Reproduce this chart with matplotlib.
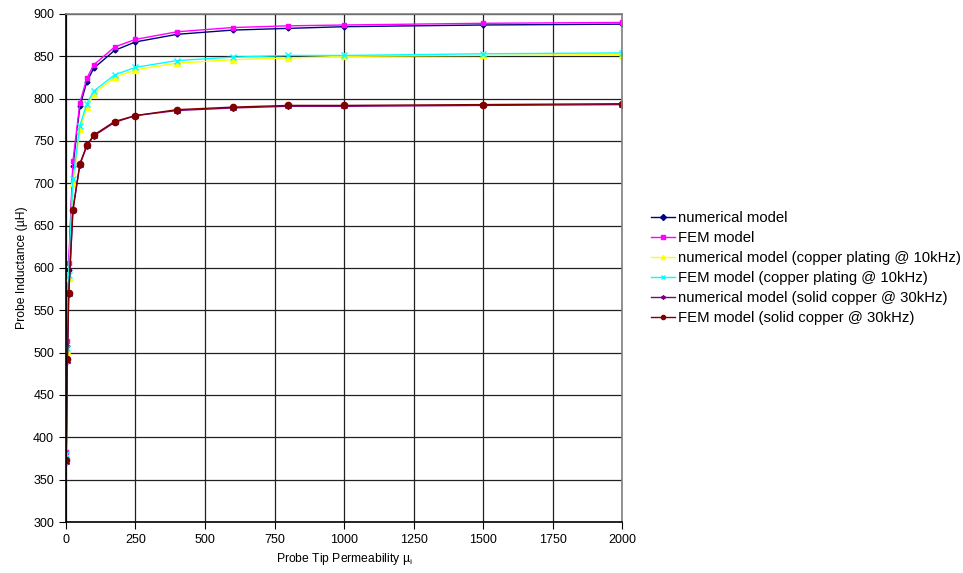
import matplotlib
matplotlib.use("Agg")
import matplotlib.pyplot as plt

plt.rcParams['font.family'] = ['Liberation Sans', 'DejaVu Sans']

# permeability values (x)
mu = [1, 5, 10, 25, 50, 75, 100, 175, 250, 400, 600, 800, 1000, 1500, 2000]

# inductance values (uH)
num_model = [376, 508, 598, 720, 791, 820, 836, 857, 867, 876, 881, 883, 885, 887, 888]
fem_model = [383, 514, 606, 726, 795, 824, 840, 861, 870, 879, 884, 886, 887, 889, 890]
num_cu_plating = [378, 502, 588, 700, 764, 790, 806, 825, 834, 842, 846, 848, 850, 851, 852]
fem_cu_plating = [380, 506, 592, 705, 768, 794, 809, 828, 837, 845, 849, 851, 851, 853, 854]
num_solid_cu = [371, 490, 569, 668, 722, 744, 756, 772, 780, 786, 789, 791, 791, 792, 793]
fem_solid_cu = [373, 492, 570, 669, 723, 745, 757, 773, 780, 787, 790, 792, 792, 793, 794]

series = [
    ("numerical model", num_model, "#000080", "D", 2.5),
    ("FEM model", fem_model, "#FF00FF", "s", 3.5),
    ("numerical model (copper plating @ 10kHz)", num_cu_plating, "#FFFF00", "^", 4),
    ("FEM model (copper plating @ 10kHz)", fem_cu_plating, "#00FFFF", "x", 4),
    ("numerical model (solid copper @ 30kHz)", num_solid_cu, "#800080", (6, 2, 0), 5),
    ("FEM model (solid copper @ 30kHz)", fem_solid_cu, "#800000", "o", 4.5),
]

fig = plt.figure(figsize=(9.63, 5.73), dpi=100)
ax = fig.add_axes([0.0685, 0.089, 0.5775, 0.8866])

for label, vals, col, mk, ms in series:
    ax.plot(mu, vals, color=col, marker=mk, markersize=ms, linewidth=1.0,
            markeredgewidth=1.0, label=label)

ax.set_xlim(0, 2000)
ax.set_ylim(300, 900)
ax.set_xticks(range(0, 2001, 250))
ax.set_yticks(range(300, 901, 50))
ax.grid(True, color="#202020", linewidth=0.9)
ax.set_axisbelow(True)
ax.tick_params(labelsize=9, length=5, direction="out")
for s in ax.spines.values():
    s.set_color("#808080")
    s.set_linewidth(1.2)
ax.spines["left"].set_color("black")
ax.spines["bottom"].set_color("black")

ax.set_xlabel("Probe Tip Permeability \u00b5$_\\mathregular{i}$", fontsize=8.7)
ax.set_ylabel("Probe Inductance (\u00b5H)", fontsize=8.7)

leg = ax.legend(loc="center left", bbox_to_anchor=(1.052, 0.5), frameon=False,
                fontsize=10.7, handlelength=1.6, handletextpad=0.2,
                labelspacing=0.4, borderaxespad=0, borderpad=0)
for h in leg.legend_handles:
    h.set_markersize(3)

fig.savefig("out.png", dpi=100)
